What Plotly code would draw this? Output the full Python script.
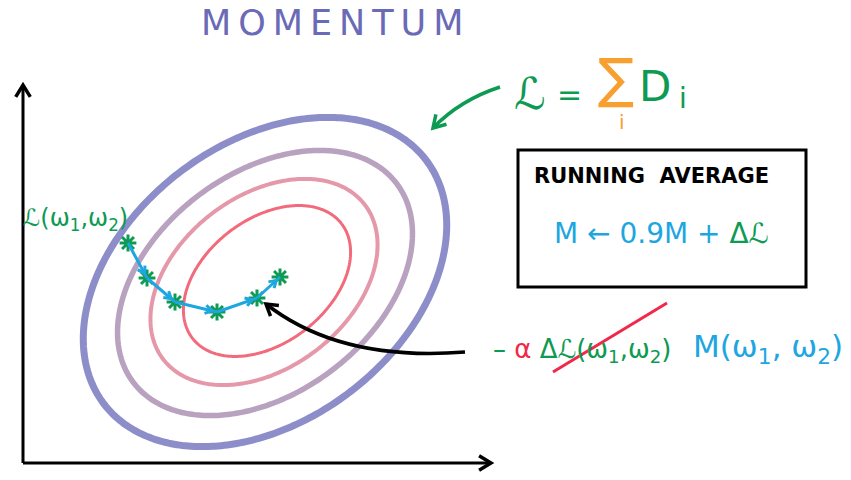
import numpy as np
import plotly.graph_objects as go

# contour rings of the loss surface, outer -> inner (sketch pixel space)
ring_a = [202, 165, 127, 94]
ring_b = [139, 110, 86, 62]
ring_cx = [265, 265, 264, 267]
ring_cy = [282, 283, 282, 281]
ring_tilt = [37, 37, 37.5, 37.5]
ring_colors = ['#8d8ec9', '#b9a1c0', '#e598aa', '#f26b7c']
ring_widths = [7, 5.5, 4, 3]

# momentum descent steps
step_x = [128, 147, 175, 217, 257, 280]
step_y = [243, 278, 302, 312, 298, 277]

GREEN = '#0d9a52'
BLUE = '#1da6df'
RED = '#f0284a'
ORANGE = '#f7a030'
FONT = 'DejaVu Sans'


def chevron(x0, y0, x1, y1, size=10, spread=0.55):
    # open "V" head at (x1, y1), pointing away from (x0, y0)
    d = np.array([x1 - x0, y1 - y0], dtype=float)
    d /= np.linalg.norm(d)
    c, s = np.cos(spread), np.sin(spread)
    l = np.array([-(d[0] * c - d[1] * s), -(d[0] * s + d[1] * c)]) * size
    r = np.array([-(d[0] * c + d[1] * s), -(-d[0] * s + d[1] * c)]) * size
    return (f'M {x1 + l[0]:.1f},{y1 + l[1]:.1f} L {x1},{y1} '
            f'L {x1 + r[0]:.1f},{y1 + r[1]:.1f}')


fig = go.Figure()

t = np.linspace(0, 2 * np.pi, 360)
for a, b, cx, cy, tilt, col, w in zip(ring_a, ring_b, ring_cx, ring_cy,
                                      ring_tilt, ring_colors, ring_widths):
    th = np.radians(tilt)
    ex = cx + a * np.cos(th) * np.cos(t) - b * np.sin(th) * np.sin(t)
    ey = cy - (a * np.sin(th) * np.cos(t) + b * np.cos(th) * np.sin(t))
    fig.add_trace(go.Scatter(x=ex, y=ey, mode='lines',
                             line=dict(color=col, width=w, simplify=False),
                             hoverinfo='skip'))

shapes = []
line_style = dict(color='black', width=3)

# axes
shapes.append(dict(type='line', x0=23, y0=463, x1=23, y1=85, line=line_style))
shapes.append(dict(type='line', x0=23, y0=463, x1=490, y1=463, line=line_style))
shapes.append(dict(type='path', path=chevron(23, 463, 23, 85, 14), line=dict(color='black', width=3.5)))
shapes.append(dict(type='path', path=chevron(23, 463, 491, 463, 14), line=dict(color='black', width=3.5)))

# blue momentum arrows between the steps
for i in range(len(step_x) - 1):
    x0, y0, x1, y1 = step_x[i], step_y[i], step_x[i + 1], step_y[i + 1]
    d = np.hypot(x1 - x0, y1 - y0)
    tx, ty = x1 - (x1 - x0) / d * 5, y1 - (y1 - y0) / d * 5
    shapes.append(dict(type='line', x0=x0, y0=y0, x1=x1, y1=y1,
                       line=dict(color=BLUE, width=3)))
    shapes.append(dict(type='path', path=chevron(x0, y0, round(tx, 1), round(ty, 1), 8),
                       line=dict(color=BLUE, width=3)))

# green arrow pointing at the outer ring
shapes.append(dict(type='path', path='M 500,87 Q 460,100 433,128', line=dict(color=GREEN, width=3.5)))
shapes.append(dict(type='path', path=chevron(450, 110, 433, 128, 14), line=dict(color=GREEN, width=3.5)))

# black curved arrow to the current step
shapes.append(dict(type='path', path='M 465,352 Q 340,362 266,304', line=dict(color='black', width=3.5)))
shapes.append(dict(type='path', path=chevron(340, 362, 266, 304, 13), line=dict(color='black', width=3.5)))

# running average box
shapes.append(dict(type='rect', x0=518, y0=150, x1=806, y1=287, line=dict(color='black', width=3)))

# strike-through of the gradient term
shapes.append(dict(type='line', x0=553, y0=372, x1=667, y1=303, line=dict(color=RED, width=3)))

fig.add_trace(go.Scatter(x=step_x, y=step_y, mode='markers',
                         marker=dict(symbol='asterisk-open', size=14, color=GREEN,
                                     line=dict(color=GREEN, width=3)),
                         hoverinfo='skip'))


def note(text, x, y, size, color, **kw):
    fig.add_annotation(text=text, x=x, y=y, xref='x', yref='y', showarrow=False,
                       font=dict(family=FONT, size=size, color=color), **kw)


note('\u2009'.join('MOMENTUM'), 332, 23, 35, '#6a6ab6')
note('ℒ(ω<sub>1</sub>,ω<sub>2</sub>)', 75, 219, 24, GREEN)

note('ℒ', 530, 93, 44, GREEN)
note('=', 569, 94, 30, GREEN)
note('∑', 616, 78, 54, ORANGE)
note('i', 622, 122, 20, ORANGE)
note('D', 655, 86, 42, GREEN)
note('i', 683, 98, 28, GREEN)

note('<b>RUNNING  AVERAGE</b>', 651, 176, 21, 'black')
note(f'<span style="color:{BLUE}">M ← 0.9M + </span><span style="color:{GREEN}">Δℒ</span>',
     661, 233, 28, BLUE)

note(f'<span style="color:{GREEN}">– </span><span style="color:{RED}">α </span>'
     f'<span style="color:{GREEN}">Δℒ(ω<sub>1</sub>,ω<sub>2</sub>)</span>',
     582, 350, 26, GREEN)
note('M(ω<sub>1</sub>, ω<sub>2</sub>)', 768, 348, 31, BLUE)

fig.update_layout(
    width=851, height=480,
    margin=dict(l=0, r=0, t=0, b=0),
    paper_bgcolor='white', plot_bgcolor='white',
    showlegend=False,
    xaxis=dict(range=[0, 851], visible=False, fixedrange=True),
    yaxis=dict(range=[480, 0], visible=False, fixedrange=True),
    shapes=shapes,
)

fig.write_html("out.html", config={'displayModeBar': False},
               post_script="document.body.style.margin = '0';")
